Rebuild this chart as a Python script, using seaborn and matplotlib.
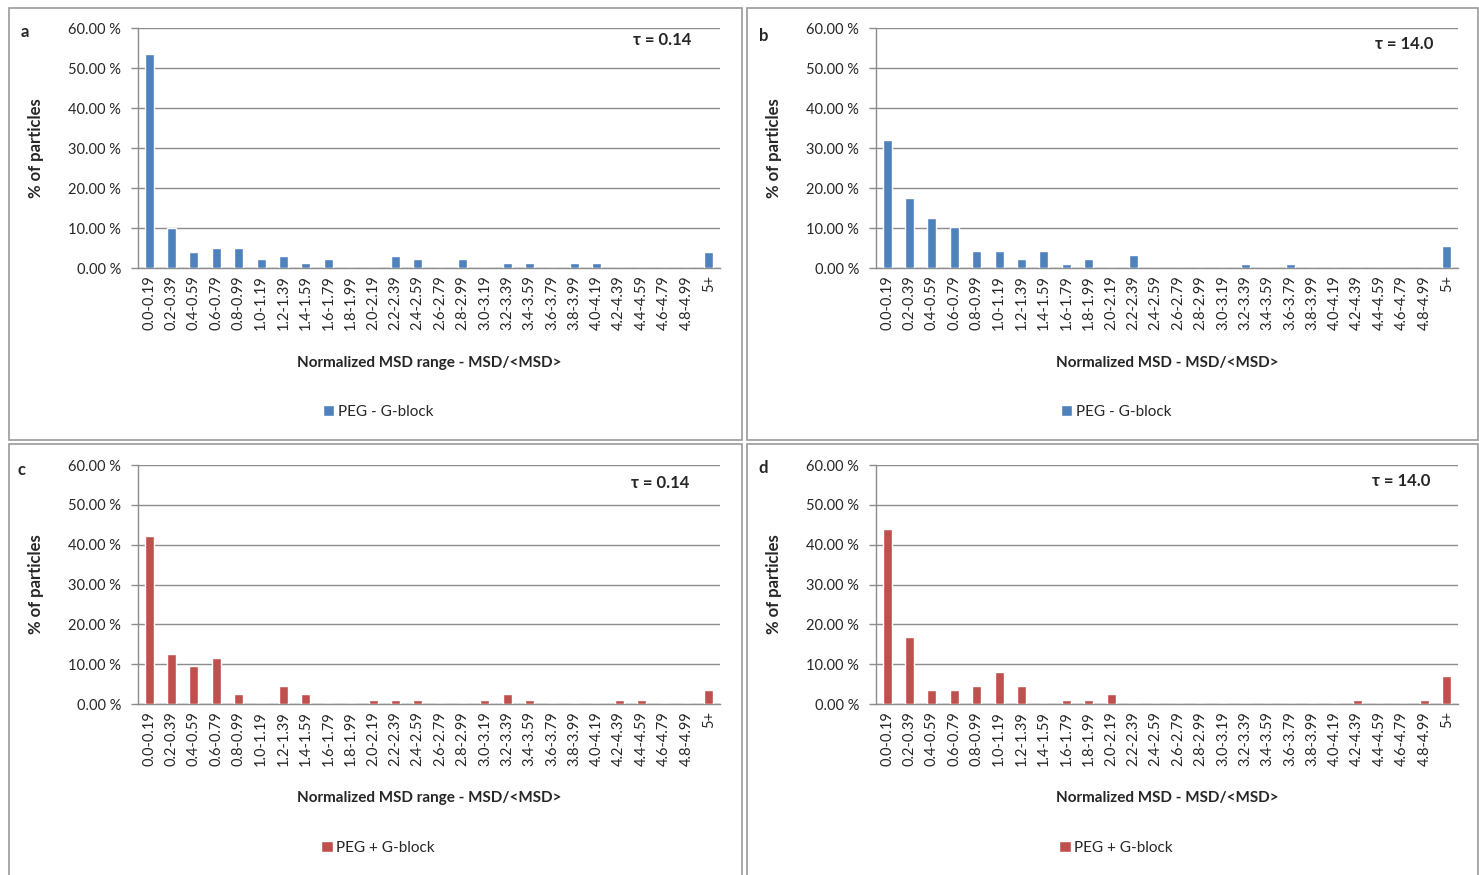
import matplotlib
matplotlib.use("Agg")
import matplotlib.pyplot as plt
from matplotlib.patches import Patch, Rectangle
import seaborn as sns

categories = ["0.0-0.19", "0.2-0.39", "0.4-0.59", "0.6-0.79", "0.8-0.99",
              "1.0-1.19", "1.2-1.39", "1.4-1.59", "1.6-1.79", "1.8-1.99",
              "2.0-2.19", "2.2-2.39", "2.4-2.59", "2.6-2.79", "2.8-2.99",
              "3.0-3.19", "3.2-3.39", "3.4-3.59", "3.6-3.79", "3.8-3.99",
              "4.0-4.19", "4.2-4.39", "4.4-4.59", "4.6-4.79", "4.8-4.99", "5+"]

# % of particles per normalized-MSD bin
peg_minus_tau_short = [53.6, 10.1, 3.9, 4.9, 4.9, 2.2, 2.9, 1.2, 2.2, 0.0,
                       0.0, 2.9, 2.2, 0.0, 2.2, 0.0, 1.2, 1.2, 0.0, 1.2,
                       1.2, 0.0, 0.0, 0.0, 0.0, 4.0]
peg_minus_tau_long = [31.9, 17.4, 12.4, 10.2, 4.3, 4.3, 2.2, 4.3, 1.1, 2.2,
                      0.0, 3.2, 0.0, 0.0, 0.0, 0.0, 1.1, 0.0, 1.1, 0.0,
                      0.0, 0.0, 0.0, 0.0, 0.0, 5.4]
peg_plus_tau_short = [42.2, 12.6, 9.5, 11.6, 2.5, 0.0, 4.6, 2.5, 0.0, 0.0,
                      1.1, 1.1, 1.1, 0.0, 0.0, 1.1, 2.5, 1.1, 0.0, 0.0,
                      0.0, 1.1, 1.1, 0.0, 0.0, 3.6]
peg_plus_tau_long = [44.0, 16.7, 3.5, 3.5, 4.6, 8.1, 4.6, 0.0, 1.1, 1.1,
                     2.6, 0.0, 0.0, 0.0, 0.0, 0.0, 0.0, 0.0, 0.0, 0.0,
                     0.0, 1.1, 0.0, 0.0, 1.1, 7.1]

panel_letters = ["a", "b", "c", "d"]
tau_labels = ["τ = 0.14", "τ = 14.0", "τ = 0.14", "τ = 14.0"]
x_titles = ["Normalized MSD range - MSD/<MSD>", "Normalized MSD - MSD/<MSD>",
            "Normalized MSD range - MSD/<MSD>", "Normalized MSD - MSD/<MSD>"]
series_names = ["PEG - G-block", "PEG - G-block", "PEG + G-block", "PEG + G-block"]
y_ticks = [0, 10, 20, 30, 40, 50, 60]

BLUE = "#4F81BD"
RED = "#C0504D"
GRID = "#8C8C8C"

sns.set_theme(style="white")
plt.rcParams["font.family"] = ["Lato", "DejaVu Sans"]

W, H = 1479, 875
fig = plt.figure(figsize=(W / 100, H / 100), dpi=100)


def fx(px):
    return px / W


def fy(py):
    return 1 - py / H


# chart-area frames (left, top, right, bottom in pixels)
frames = [(9, 8, 742, 440), (747, 8, 1478, 440),
          (9, 444, 742, 880), (747, 444, 1478, 880)]
for (l, t, r, b) in frames:
    fig.add_artist(Rectangle((fx(l), fy(b)), fx(r - l), (b - t) / H,
                             transform=fig.transFigure, fill=False,
                             edgecolor="#9A9A9A", linewidth=1.2))

# plot areas (left, top-of-60%, right, zero line)
plot_boxes = [(138, 28, 720, 268), (876, 28, 1458, 268),
              (138, 465, 720, 704), (876, 465, 1458, 704)]
data = [peg_minus_tau_short, peg_minus_tau_long, peg_plus_tau_short, peg_plus_tau_long]
colors = [BLUE, BLUE, RED, RED]
letter_pos = [(25, 32), (764, 36), (22, 470), (763, 468)]
tau_pos = [(0.90, 0.948), (0.908, 0.933), (0.897, 0.925), (0.902, 0.933)]
legend_pos = [(378, 412), (1116, 412), (378, 848), (1116, 848)]

for i in range(4):
    l, t, r, b = plot_boxes[i]
    ax = fig.add_axes([fx(l), fy(b), fx(r - l), (b - t) / H])
    sns.barplot(x=categories, y=data[i], color=colors[i], width=0.4,
                saturation=1, ax=ax, zorder=3)
    ax.set_xlim(-0.5, len(categories) - 0.5)
    ax.set_ylim(0, 60)
    ax.set_yticks(y_ticks)
    ax.set_yticklabels([f"{v:.2f} %" for v in y_ticks], fontsize=10.5)
    ax.tick_params(axis="x", labelrotation=90, labelsize=10.5, length=0, pad=5)
    ax.tick_params(axis="y", length=5, width=1, color=GRID, pad=7, left=True)
    ax.yaxis.grid(True, color=GRID, linewidth=1, zorder=0)
    ax.xaxis.grid(False)
    for s in ["top", "right"]:
        ax.spines[s].set_visible(False)
    for s in ["left", "bottom"]:
        ax.spines[s].set_color(GRID)
        ax.spines[s].set_linewidth(1)
    ax.set_ylabel("% of particles", fontsize=12, fontweight="bold")
    ax.yaxis.set_label_coords(-0.161, 0.5)
    ax.set_xlabel(x_titles[i], fontsize=11, fontweight="bold")
    ax.xaxis.set_label_coords(0.5, -0.365)
    ax.text(tau_pos[i][0], tau_pos[i][1], tau_labels[i], transform=ax.transAxes,
            ha="center", va="center", fontsize=12, fontweight="bold")
    fig.text(fx(letter_pos[i][0]), fy(letter_pos[i][1]), panel_letters[i],
             ha="center", va="center", fontsize=12, fontweight="bold")
    ax.legend(handles=[Patch(facecolor=colors[i], label=series_names[i])],
              loc="center", bbox_to_anchor=(fx(legend_pos[i][0]), fy(legend_pos[i][1])),
              bbox_transform=fig.transFigure, frameon=False, fontsize=11,
              handlelength=0.75, handleheight=0.75, handletextpad=0.2)

fig.savefig("out.png", dpi=100)
